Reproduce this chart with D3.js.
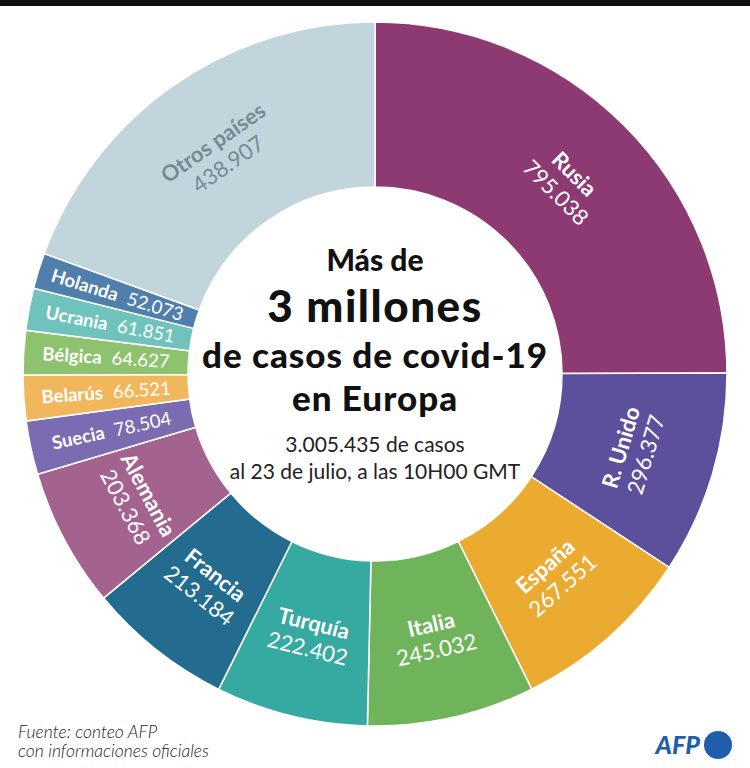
<!DOCTYPE html>
<html>
  <head>
    <meta charset="utf-8">
    <script src="https://cdn.jsdelivr.net/npm/d3@7"></script>
    <title>Covid-19 en Europa</title>
    <style>
      body {
        margin: 0px;
        background-color: white;
      }
      svg {
        font-family: 'Lato', sans-serif;
      }
      .nombre { font-weight: 700; }
      .valor { font-weight: 400; }
      .titulo { font-weight: 900; fill: #111111; text-anchor: middle; }
      .subtitulo { font-weight: 400; fill: #222222; text-anchor: middle; font-size: 21px; }
      .fuente { font-style: italic; font-weight: 300; fill: #222222; font-size: 17.5px; }
    </style>
  </head>
  <body>
    <div id="chart"></div>
    <script>

      // datos
      const paises = ["Rusia", "R. Unido", "España", "Italia", "Turquía", "Francia",
                      "Alemania", "Suecia", "Belarús", "Bélgica", "Ucrania", "Holanda"];
      const casos = [795038, 296377, 267551, 245032, 222402, 213184,
                     203368, 78504, 66521, 64627, 61851, 52073];
      const colores = ["#8D3A73", "#5C4F9C", "#EBAA30", "#6FB45A", "#36AAA1", "#236C90",
                       "#A4628F", "#7B6CB1", "#F0B75C", "#8EC26E", "#6FC3BC", "#507FAB"];
      const otrosNombre = "Otros países";
      const otrosCasos = 438907;
      const otrosColor = "#C2D5DC";

      const width = 750;
      const height = 768;
      const cx = 375, cy = 374;
      const outerR = 352, innerR = 187;
      // el grafico original reserva ~70 grados para "Otros paises"
      const finPaises = 290 * Math.PI / 180;

      const es = d3.formatLocale({decimal: ",", thousands: ".", grouping: [3], currency: ["", "€"]});
      const fmt = es.format(",d");

      const svg = d3.select("#chart").append("svg")
        .attr("width", width)
        .attr("height", height);

      svg.append("rect")
        .attr("x", 0).attr("y", 0)
        .attr("width", width).attr("height", 6)
        .attr("fill", "#111111");

      const g = svg.append("g")
        .attr("transform", `translate(${cx},${cy})`);

      const datos = paises.map((p, i) => ({nombre: p, casos: casos[i], color: colores[i]}));

      const pie = d3.pie()
        .sort(null)
        .value(d => d.casos)
        .startAngle(0)
        .endAngle(finPaises);

      const arcos = pie(datos);
      arcos.push({
        data: {nombre: otrosNombre, casos: otrosCasos, color: otrosColor, otros: true},
        startAngle: finPaises,
        endAngle: 2 * Math.PI
      });

      const arc = d3.arc()
        .innerRadius(innerR)
        .outerRadius(outerR);

      g.selectAll("path.slice").data(arcos)
        .enter().append("path")
          .attr("class", "slice")
          .attr("d", arc)
          .attr("fill", d => d.data.color)
          .attr("stroke", "white")
          .attr("stroke-width", 1.5);

      // etiquetas
      const labelR = (innerR + outerR) / 2;
      const deg = r => r * 180 / Math.PI;

      arcos.forEach(d => {
        const a = (d.startAngle + d.endAngle) / 2;
        const x = Math.sin(a) * labelR;
        const y = -Math.cos(a) * labelR;
        const span = deg(d.endAngle - d.startAngle);
        const colorTexto = d.data.otros ? "#768B95" : "white";
        const ad = deg(a);

        if (span < 15) {
          // porciones pequeñas: texto radial hacia el centro
          const rot = ad - 270;
          const t = g.append("text")
            .attr("transform", `translate(${x},${y}) rotate(${rot})`)
            .attr("text-anchor", "middle")
            .attr("dy", "0.35em")
            .attr("fill", colorTexto)
            .style("font-size", "18.5px");
          t.append("tspan").attr("class", "nombre").text(d.data.nombre);
          t.append("tspan").attr("class", "valor").attr("dx", 10).text(fmt(d.data.casos));
        } else {
          const arriba = ad < 90 || ad > 270;
          const rot = arriba ? ad : ad - 180;
          const t = g.append("g")
            .attr("transform", `translate(${x},${y}) rotate(${rot})`);
          t.append("text")
            .attr("class", "nombre")
            .attr("text-anchor", "middle")
            .attr("y", -5)
            .attr("fill", colorTexto)
            .style("font-size", "22px")
            .text(d.data.nombre);
          t.append("text")
            .attr("class", "valor")
            .attr("text-anchor", "middle")
            .attr("y", 21)
            .attr("fill", colorTexto)
            .style("font-size", "22px")
            .text(fmt(d.data.casos));
        }
      });

      // titulo central (un solo texto con varias lineas)
      const total = d3.sum(casos) + otrosCasos;

      const titulo = svg.append("text").attr("class", "titulo");
      titulo.append("tspan").attr("x", cx).attr("y", 271)
        .style("font-size", "30px").text("Más de");
      titulo.append("tspan").attr("x", cx).attr("y", 322)
        .style("font-size", "44px").style("letter-spacing", "1.5px").text("3 millones");
      titulo.append("tspan").attr("x", cx).attr("y", 368)
        .style("font-size", "35px").style("letter-spacing", "1px").text("de casos de covid-19");
      titulo.append("tspan").attr("x", cx).attr("y", 411)
        .style("font-size", "35px").style("letter-spacing", "1px").text("en Europa");

      const sub = svg.append("text").attr("class", "subtitulo");
      sub.append("tspan").attr("x", cx).attr("y", 452)
        .text(fmt(total) + " de casos");
      sub.append("tspan").attr("x", cx).attr("y", 479)
        .text("al 23 de julio, a las 10H00 GMT");

      // fuente
      const fuente = svg.append("text").attr("class", "fuente");
      fuente.append("tspan").attr("x", 18).attr("y", 738)
        .text("Fuente: conteo AFP");
      fuente.append("tspan").attr("x", 18).attr("y", 757)
        .text("con informaciones oficiales");

      // logo AFP
      svg.append("text")
        .attr("x", 700).attr("y", 754)
        .attr("text-anchor", "end")
        .attr("fill", "#1F5DAD")
        .style("font-size", "25px")
        .style("font-weight", 900)
        .style("font-style", "italic")
        .text("AFP");
      svg.append("circle")
        .attr("cx", 718).attr("cy", 745)
        .attr("r", 14)
        .attr("fill", "#1F5DAD");

    </script>
  </body>
</html>
